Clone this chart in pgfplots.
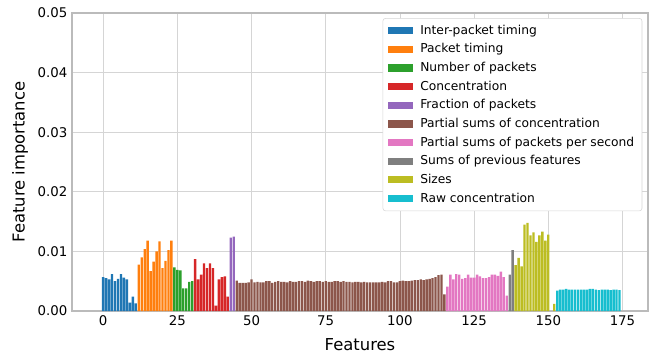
\documentclass[border=0pt]{standalone}
\usepackage{fontspec}
\setmainfont{DejaVu Sans}
\usepackage{pgfplots}
\pgfplotsset{compat=1.18}
\definecolor{c0}{HTML}{1F77B4}
\definecolor{c1}{HTML}{FF7F0E}
\definecolor{c2}{HTML}{2CA02C}
\definecolor{c3}{HTML}{D62728}
\definecolor{c4}{HTML}{9467BD}
\definecolor{c5}{HTML}{8C564B}
\definecolor{c6}{HTML}{E377C2}
\definecolor{c7}{HTML}{7F7F7F}
\definecolor{c8}{HTML}{BCBD22}
\definecolor{c9}{HTML}{17BECF}
\definecolor{gridc}{HTML}{D5D5D5}
\definecolor{framec}{HTML}{BBBBBB}
\pgfplotsset{
  mybar/.style={fill=#1, draw=none,
    legend image code/.code={\fill[fill=#1, sharp corners, fill opacity=1] (0pt,-2.7pt) rectangle (18.75pt,2.7pt);}},
}
\begin{document}
\begin{tikzpicture}
\useasboundingbox (-54pt,-35.25pt) rectangle (435pt,233.25pt);
\begin{axis}[
  at={(0,0)}, anchor=south west,
  scale only axis, width=432pt, height=223.5pt,
  xmin=-10.5, xmax=183.6, ymin=0, ymax=0.05,
  ybar, bar width=0.8, bar shift=0pt,
  xtick={0,25,...,175},
  ytick={0,0.01,0.02,0.03,0.04,0.05},
  scaled y ticks=false,
  yticklabel style={/pgf/number format/fixed, /pgf/number format/precision=2, /pgf/number format/fixed zerofill},
  /pgf/number format/assume math mode=true,
  tick label style={font=\fontsize{10}{12}\selectfont},
  major tick length=0pt,
  grid=major,
  major grid style={draw=gridc, line width=0.6pt},
  axis line style={draw=framec, line width=0.8pt},
  xlabel={Features}, ylabel={Feature importance},
  label style={font=\fontsize{12.3}{14}\selectfont},
  xlabel style={at={(axis description cs:0.5,-0.114)}, anchor=center},
  ylabel style={at={(axis description cs:-0.0903,0.5)}, anchor=center},
  legend cell align=left,
  legend style={at={(0.99,0.983)}, anchor=north east,
    font=\fontsize{9.2}{11}\selectfont,
    draw=gridc, rounded corners=2pt, fill=white,
    row sep=1.5pt, column sep=3.5pt, inner xsep=3.8pt, inner ysep=3pt},
]
\addplot+[mybar=c0] coordinates {(0,0.0057)(1,0.0055)(2,0.0053)(3,0.0062)(4,0.0050)(5,0.0054)(6,0.0062)(7,0.0056)(8,0.0053)(9,0.0014)(10,0.0024)(11,0.0013)};
\addlegendentry{Inter-packet timing}
\addplot+[mybar=c1] coordinates {(12,0.0078)(13,0.0090)(14,0.0104)(15,0.0118)(16,0.0067)(17,0.0083)(18,0.0100)(19,0.0117)(20,0.0072)(21,0.0084)(22,0.0102)(23,0.0118)};
\addlegendentry{Packet timing}
\addplot+[mybar=c2] coordinates {(24,0.0073)(25,0.0069)(26,0.0068)(27,0.0038)(28,0.0038)(29,0.0049)(30,0.0050)};
\addlegendentry{Number of packets}
\addplot+[mybar=c3] coordinates {(31,0.0087)(32,0.0053)(33,0.0061)(34,0.0080)(35,0.0072)(36,0.0080)(37,0.0072)(38,0.0009)(39,0.0053)(40,0.0057)(41,0.0058)(42,0.0024)};
\addlegendentry{Concentration}
\addplot+[mybar=c4] coordinates {(43,0.0123)(44,0.0125)};
\addlegendentry{Fraction of packets}
\addplot+[mybar=c5] coordinates {(45,0.0051)(46,0.0047)(47,0.0047)(48,0.0047)(49,0.0048)(50,0.0053)(51,0.0048)(52,0.0049)(53,0.0048)(54,0.0048)(55,0.0050)(56,0.0050)(57,0.0047)(58,0.0049)(59,0.0050)(60,0.0049)(61,0.0049)(62,0.0048)(63,0.0050)(64,0.0049)(65,0.0049)(66,0.0050)(67,0.0050)(68,0.0049)(69,0.0051)(70,0.0050)(71,0.0049)(72,0.0050)(73,0.0050)(74,0.0049)(75,0.0050)(76,0.0049)(77,0.0049)(78,0.0050)(79,0.0050)(80,0.0049)(81,0.0050)(82,0.0049)(83,0.0049)(84,0.0048)(85,0.0049)(86,0.0049)(87,0.0048)(88,0.0049)(89,0.0048)(90,0.0048)(91,0.0048)(92,0.0048)(93,0.0048)(94,0.0049)(95,0.0048)(96,0.0050)(97,0.0050)(98,0.0048)(99,0.0048)(100,0.0050)(101,0.0051)(102,0.0050)(103,0.0050)(104,0.0051)(105,0.0052)(106,0.0052)(107,0.0053)(108,0.0052)(109,0.0053)(110,0.0054)(111,0.0055)(112,0.0057)(113,0.0060)(114,0.0061)(115,0.0028)};
\addlegendentry{Partial sums of concentration}
\addplot+[mybar=c6] coordinates {(116,0.0041)(117,0.0061)(118,0.0053)(119,0.0062)(120,0.0061)(121,0.0054)(122,0.0055)(123,0.0061)(124,0.0056)(125,0.0056)(126,0.0061)(127,0.0058)(128,0.0055)(129,0.0055)(130,0.0057)(131,0.0061)(132,0.0061)(133,0.0059)(134,0.0066)(135,0.0057)(136,0.0026)};
\addlegendentry{Partial sums of packets per second}
\addplot+[mybar=c7] coordinates {(137,0.0061)(138,0.0102)};
\addlegendentry{Sums of previous features}
\addplot+[mybar=c8] coordinates {(139,0.0077)(140,0.0089)(141,0.0075)(142,0.0145)(143,0.0148)(144,0.0127)(145,0.0132)(146,0.0116)(147,0.0127)(148,0.0133)(149,0.0118)(150,0.0128)(152,0.0012)};
\addlegendentry{Sizes}
\addplot+[mybar=c9] coordinates {(153,0.0034)(154,0.0036)(155,0.0036)(156,0.0037)(157,0.0036)(158,0.0036)(159,0.0036)(160,0.0036)(161,0.0036)(162,0.0036)(163,0.0036)(164,0.0037)(165,0.0037)(166,0.0036)(167,0.0035)(168,0.0036)(169,0.0036)(170,0.0036)(171,0.0035)(172,0.0036)(173,0.0036)(174,0.0035)};
\addlegendentry{Raw concentration}
\end{axis}
\end{tikzpicture}
\end{document}
